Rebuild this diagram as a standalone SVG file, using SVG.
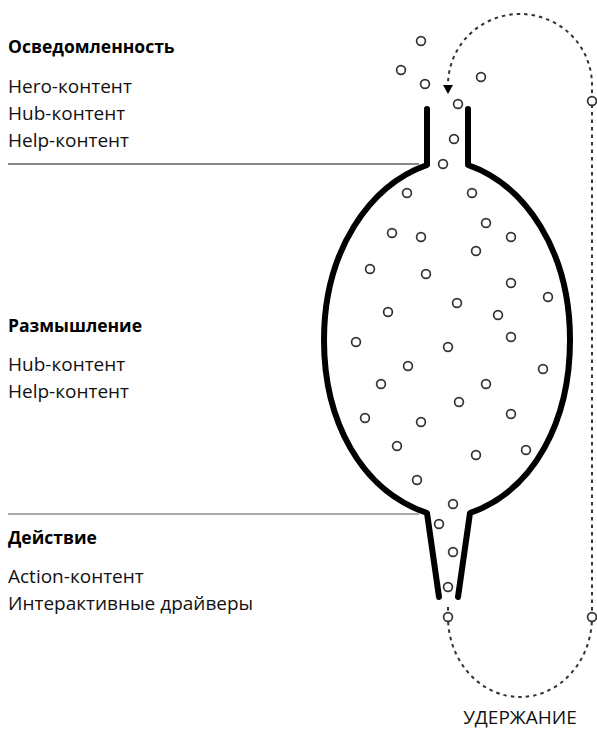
<svg xmlns="http://www.w3.org/2000/svg" width="597" height="731" viewBox="0 0 597 731">
<style>
.t{font-family:"Open Sans","Noto Sans","Liberation Sans",sans-serif;font-size:19px;fill:#111}
.h{font-family:"Open Sans","Noto Sans","Liberation Sans",sans-serif;font-size:17.5px;font-weight:bold;fill:#000}
.f{fill:none;stroke:#000;stroke-width:6;stroke-linecap:round;stroke-linejoin:round}
.p{fill:#fff;stroke:#333;stroke-width:1.7}
.d{fill:none;stroke:#333;stroke-width:2;stroke-dasharray:3.5 4}
</style>
<defs>
<marker id="ah" viewBox="0 0 10 10" refX="0" refY="5" markerWidth="10" markerHeight="10" markerUnits="userSpaceOnUse" orient="auto">
<path d="M0,0 L9,5 L0,10 Z" fill="#000"/>
</marker>
</defs>

<g id="stage-awareness">
<text class="h" x="8" y="53">Осведомленность</text>
<text class="t" x="8" y="93">Hero-контент</text>
<text class="t" x="8" y="120">Hub-контент</text>
<text class="t" x="8" y="147">Help-контент</text>
<line x1="8" y1="164" x2="419" y2="164" stroke="#111" stroke-width="1.2"/>
</g>

<g id="stage-consideration">
<text class="h" x="8" y="332">Размышление</text>
<text class="t" x="8" y="371">Hub-контент</text>
<text class="t" x="8" y="398">Help-контент</text>
<line x1="8" y1="514" x2="419" y2="514" stroke="#555" stroke-width="1.2"/>
</g>

<g id="stage-action">
<text class="h" x="8" y="544">Действие</text>
<text class="t" x="8" y="583">Action-контент</text>
<text class="t" x="8" y="610">Интерактивные драйверы</text>
</g>

<g id="funnel">
<path class="f" d="M427,109 L427,165 C370,185 324,250 324,340 C324,420 360,490 427,513 L439,597"/>
<path class="f" d="M468,109 L468,165 C525,185 570,250 570,340 C570,420 535,490 470,513 L458,597"/>
</g>

<g id="connectors">
<path class="d" d="M448,607 L448,617 A72,80 0 0 0 592,617 L592,85 A72,71 0 0 0 448,85" marker-end="url(#ah)"/>
</g>

<g id="retention">
<text class="t" x="520" y="724" text-anchor="middle" font-size="18">УДЕРЖАНИЕ</text>
</g>

<g id="particles">
<circle class="p" cx="421" cy="41" r="4.4"/>
<circle class="p" cx="401" cy="70" r="4.4"/>
<circle class="p" cx="425" cy="84" r="4.4"/>
<circle class="p" cx="481" cy="77" r="4.4"/>
<circle class="p" cx="458" cy="104" r="4.4"/>
<circle class="p" cx="454" cy="139" r="4.4"/>
<circle class="p" cx="443" cy="164" r="4.4"/>
<circle class="p" cx="407" cy="193" r="4.4"/>
<circle class="p" cx="472" cy="193" r="4.4"/>
<circle class="p" cx="486" cy="223" r="4.4"/>
<circle class="p" cx="392" cy="233" r="4.4"/>
<circle class="p" cx="421" cy="237" r="4.4"/>
<circle class="p" cx="511" cy="237" r="4.4"/>
<circle class="p" cx="476" cy="251" r="4.4"/>
<circle class="p" cx="370" cy="269" r="4.4"/>
<circle class="p" cx="426" cy="274" r="4.4"/>
<circle class="p" cx="511" cy="283" r="4.4"/>
<circle class="p" cx="548" cy="297" r="4.4"/>
<circle class="p" cx="457" cy="303" r="4.4"/>
<circle class="p" cx="388" cy="312" r="4.4"/>
<circle class="p" cx="498" cy="315" r="4.4"/>
<circle class="p" cx="356" cy="342" r="4.4"/>
<circle class="p" cx="511" cy="337" r="4.4"/>
<circle class="p" cx="448" cy="347" r="4.4"/>
<circle class="p" cx="408" cy="366" r="4.4"/>
<circle class="p" cx="543" cy="369" r="4.4"/>
<circle class="p" cx="381" cy="384" r="4.4"/>
<circle class="p" cx="486" cy="384" r="4.4"/>
<circle class="p" cx="459" cy="402" r="4.4"/>
<circle class="p" cx="511" cy="414" r="4.4"/>
<circle class="p" cx="365" cy="418" r="4.4"/>
<circle class="p" cx="421" cy="422" r="4.4"/>
<circle class="p" cx="397" cy="446" r="4.4"/>
<circle class="p" cx="526" cy="450" r="4.4"/>
<circle class="p" cx="476" cy="455" r="4.4"/>
<circle class="p" cx="417" cy="480" r="4.4"/>
<circle class="p" cx="453" cy="504" r="4.4"/>
<circle class="p" cx="439" cy="524" r="4.4"/>
<circle class="p" cx="453" cy="552" r="4.4"/>
<circle class="p" cx="448" cy="587" r="4.4"/>
<circle class="p" cx="448" cy="617" r="4.4"/>
<circle class="p" cx="592" cy="617" r="4.4"/>
<circle class="p" cx="592" cy="101" r="4.4"/>
</g>
</svg>
